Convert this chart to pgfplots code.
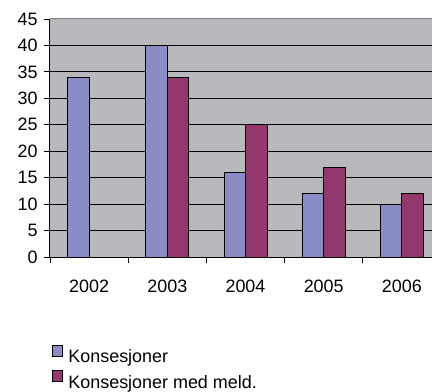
\documentclass[border=0pt]{standalone}
\usepackage{pgfplots}
\pgfplotsset{compat=1.18}
\usepackage{fontspec}
\setmainfont{Liberation Sans}

\definecolor{plotbg}{RGB}{185,185,189}
\definecolor{konsblue}{RGB}{138,140,198}
\definecolor{konsplum}{RGB}{146,56,108}

\pgfplotstableread{
x    kons  meld
0.5  34    0
1.5  40    34
2.5  16    25
3.5  12    17
4.5  10    12
}\konsdata

\begin{document}
\begin{tikzpicture}
\useasboundingbox (0bp,0bp) rectangle (432bp,392bp);
\begin{axis}[
  at={(50bp,135bp)}, anchor=south west,
  scale only axis, width=382bp, height=238bp,
  xmin=0, xmax=4.885, ymin=0, ymax=45,
  ybar=0pt, bar width=21.5bp,
  axis background/.style={fill=plotbg},
  axis x line*=bottom, axis y line*=left,
  axis line style={black, line width=1bp},
  tick align=outside,
  ytick={0,5,...,40},
  ymajorgrids, grid style={black, line width=0.9bp},
  major y tick style={black, line width=0.9bp},
  major tick length=6bp,
  xtick={0.5,1.5,2.5,3.5,4.5},
  xticklabels={2002,2003,2004,2005,2006},
  major x tick style={draw=none},
  minor xtick={0,1,2,3,4},
  minor tick length=6bp,
  minor x tick style={black, line width=0.9bp},
  /pgf/number format/assume math mode=true,
  tick label style={font=\fontsize{18}{20}\selectfont},
  xticklabel style={yshift=-13bp},
  yticklabel style={xshift=-3bp},
  legend style={at={(-0.003,-0.362)}, anchor=north west, draw=none, fill=none,
    font=\fontsize{18}{20}\selectfont, row sep=6bp,
    nodes={inner sep=0pt}},
  legend cell align=left,
  legend image code/.code={%
    \draw[#1,draw=black,line width=0.8bp] (0bp,1bp) rectangle (10bp,11.5bp);
    \path[draw=none,fill=none] (0bp,0bp) -- (16bp,0bp);},
  every axis plot/.append style={draw=black, line width=1bp},
  extra y ticks={45}, extra y tick style={grid style={gray, line width=1bp}},
]
\addplot[fill=konsblue] table[x=x,y=kons] {\konsdata};
\addplot[fill=konsplum] table[x=x,y=meld] {\konsdata};
\legend{Konsesjoner, Konsesjoner med meld.}
\end{axis}
\end{tikzpicture}
\end{document}
